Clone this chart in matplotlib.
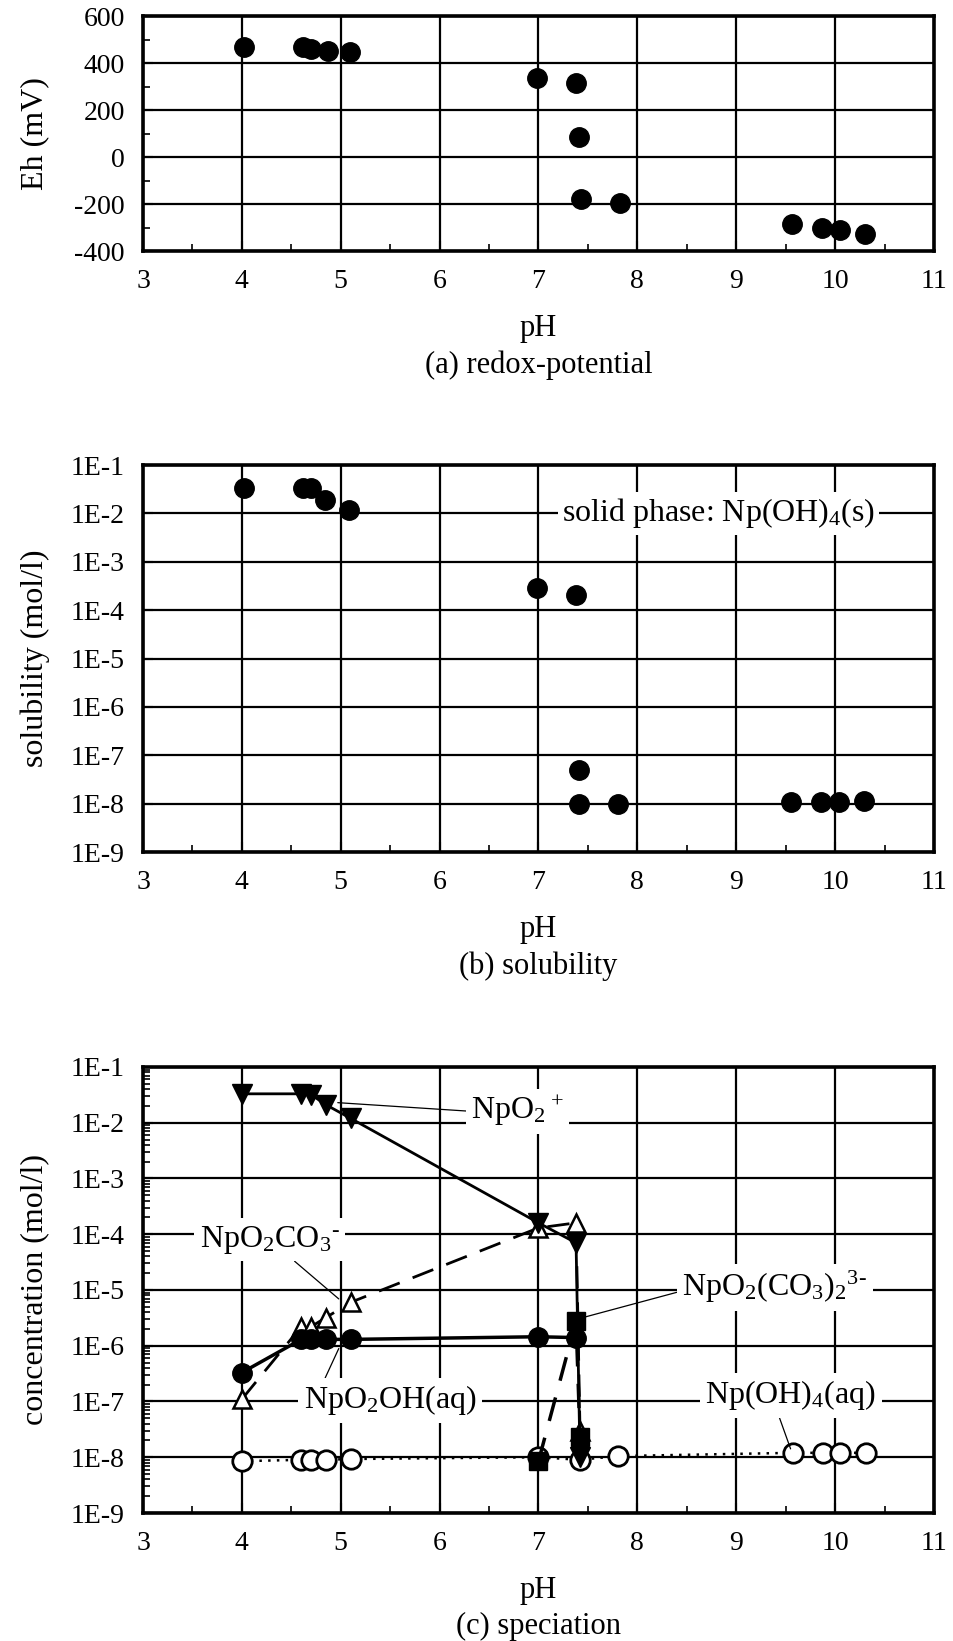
import numpy as np
import matplotlib
matplotlib.use("Agg")
from matplotlib import pyplot as plt
from matplotlib.ticker import FixedLocator, MultipleLocator, LogLocator, NullFormatter

plt.rcParams['font.family'] = ['Liberation Serif', 'DejaVu Serif']
plt.rcParams['mathtext.fontset'] = 'custom'
plt.rcParams['mathtext.rm'] = 'Liberation Serif'
plt.rcParams['mathtext.default'] = 'regular'
plt.rcParams['axes.unicode_minus'] = False
plt.rcParams['font.size'] = 20

# (a) redox potential
ph_a = [4.02, 4.62, 4.70, 4.87, 5.09, 6.98, 7.38, 7.41, 7.43, 7.82, 9.56, 9.87, 10.05, 10.30]
eh_a = [470, 470, 462, 453, 446, 335, 315, 86, -178, -197, -283, -300, -310, -328]

# (b) solubility
ph_b = [4.02, 4.62, 4.70, 4.84, 5.08, 6.98, 7.38, 7.41, 7.41, 7.80, 9.55, 9.86, 10.04, 10.29]
sol_b = [3.3e-2, 3.3e-2, 3.3e-2, 1.9e-2, 1.15e-2, 2.9e-4, 2.1e-4, 4.9e-8, 1.0e-8, 1.0e-8,
         1.1e-8, 1.1e-8, 1.1e-8, 1.15e-8]

# (c) speciation
ph_c = [4.0, 4.6, 4.7, 4.85, 5.1, 7.0, 7.38, 7.42]
npo2 = [3.3e-2, 3.3e-2, 3.2e-2, 2.1e-2, 1.2e-2, 1.6e-4, 7.0e-5, 1.0e-8]
npo2co3 = [1.1e-7, 2.2e-6, 2.2e-6, 3.2e-6, 6.0e-6, 1.3e-4, 1.6e-4, 3.0e-8]
ph_oh = [4.0, 4.6, 4.7, 4.85, 5.1, 7.0, 7.38]
npo2oh = [3.3e-7, 1.3e-6, 1.3e-6, 1.3e-6, 1.3e-6, 1.45e-6, 1.4e-6]
ph_dc = [7.0, 7.38, 7.42]
npo2dc = [8.5e-9, 2.8e-6, 2.3e-8]
ph_np4 = [4.0, 4.6, 4.7, 4.85, 5.1, 7.0, 7.42, 7.8, 9.57, 9.88, 10.05, 10.31]
npoh4 = [8.5e-9, 9e-9, 9e-9, 9e-9, 9.3e-9, 1.0e-8, 9e-9, 1.05e-8, 1.2e-8, 1.2e-8, 1.2e-8, 1.2e-8]

log_ticks = [1e-9, 1e-8, 1e-7, 1e-6, 1e-5, 1e-4, 1e-3, 1e-2, 1e-1]
log_labels = ['1E-9', '1E-8', '1E-7', '1E-6', '1E-5', '1E-4', '1E-3', '1E-2', '1E-1']
eh_ticks = [-400, -200, 0, 200, 400, 600]
ph_ticks = [3, 4, 5, 6, 7, 8, 9, 10, 11]

fig = plt.figure(figsize=(9.54, 16.41), dpi=100)
axa = fig.add_axes([0.1499, 0.8470, 0.8291, 0.1432])
axb = fig.add_axes([0.1499, 0.4808, 0.8291, 0.2358])
axc = fig.add_axes([0.1499, 0.0780, 0.8291, 0.2718])

def style(ax, ylabel, sub):
    ax.set_xlim(3, 11)
    ax.set_xticks(ph_ticks)
    ax.xaxis.set_minor_locator(MultipleLocator(0.5))
    ax.grid(True, which='major', color='black', lw=1.6)
    ax.set_axisbelow(True)
    for s in ax.spines.values():
        s.set_linewidth(2.6)
    ax.tick_params(which='major', direction='in', length=7, width=1.5, labelsize=20)
    ax.tick_params(axis='x', which='major', pad=13)
    ax.tick_params(axis='y', which='major', pad=13)
    ax.tick_params(which='minor', direction='in', length=5, width=1.2)
    ax.set_ylabel(ylabel, fontsize=23)
    ax.yaxis.set_label_coords(-0.118, 0.5)
    ax.annotate('pH', xy=(0.5, 0), xycoords='axes fraction', xytext=(0, -56),
                textcoords='offset points', ha='center', va='center', fontsize=22)
    ax.annotate(sub, xy=(0.5, 0), xycoords='axes fraction', xytext=(0, -82),
                textcoords='offset points', ha='center', va='center', fontsize=22)

# (a)
axa.plot(ph_a, eh_a, 'o', color='black', ms=14)
axa.set_ylim(-400, 600)
axa.set_yticks(eh_ticks)
axa.yaxis.set_minor_locator(MultipleLocator(100))
style(axa, 'Eh (mV)', '(a) redox-potential')

# (b)
axb.set_yscale('log')
axb.plot(ph_b, sol_b, 'o', color='black', ms=14)
axb.set_ylim(1e-9, 1e-1)
axb.yaxis.set_major_locator(FixedLocator(log_ticks))
axb.set_yticklabels(log_labels)
axb.yaxis.set_minor_locator(LogLocator(base=10, subs=np.arange(2, 10)))
axb.yaxis.set_minor_formatter(NullFormatter())
style(axb, 'solubility (mol/l)', '(b) solubility')
axb.text(8.82, 1e-2, 'solid phase: Np(OH)$_4$(s)', ha='center', va='center', fontsize=23,
         bbox=dict(fc='white', ec='none', pad=3))

# (c)
axc.set_yscale('log')
axc.plot(ph_np4, npoh4, linestyle=(0, (1, 2.5)), color='black', lw=1.8,
         marker='o', mfc='white', mec='black', mew=2, ms=14)
axc.plot(ph_c, npo2co3, linestyle=(0, (8, 5)), color='black', lw=2,
         marker='^', mfc='white', mec='black', mew=1.8, ms=13)
axc.plot(ph_c, npo2, '-', color='black', lw=2, marker='v', ms=14)
axc.plot(ph_oh, npo2oh, '-', color='black', lw=2.5, marker='o', ms=14)
axc.plot(ph_dc, npo2dc, linestyle=(0, (7, 5)), color='black', lw=2.5, marker='s', ms=13)
axc.set_ylim(1e-9, 1e-1)
axc.yaxis.set_major_locator(FixedLocator(log_ticks))
axc.set_yticklabels(log_labels)
axc.yaxis.set_minor_locator(LogLocator(base=10, subs=np.arange(2, 10)))
axc.yaxis.set_minor_formatter(NullFormatter())
style(axc, 'concentration (mol/l)', '(c) speciation')

box = dict(fc='white', ec='none', pad=4)
lead = dict(arrowstyle='-', lw=0.9, color='black', shrinkA=0, shrinkB=0)
axc.annotate('NpO$_2$$^+$', xy=(4.97, 10**-1.64), xytext=(6.79, 1.6e-2), ha='center', va='center',
             fontsize=23, bbox=box, arrowprops=dict(lead, relpos=(0, 0.5)))
axc.annotate(r'NpO$_2$CO$_3$$^{\text{-}}$', xy=(4.98, 10**-5.16), xytext=(4.28, 10**-4.1),
             ha='center', va='center', fontsize=23, bbox=box,
             arrowprops=dict(lead, relpos=(0.62, 0.05)))
axc.annotate('NpO$_2$OH(aq)', xy=(4.98, 10**-6.05), xytext=(5.5, 10**-6.98), ha='center',
             va='center', fontsize=23, bbox=box, arrowprops=dict(lead, relpos=(0.1, 0.9)))
axc.annotate(r'NpO$_2$(CO$_3$)$_2$$^{3\text{-}}$', xy=(7.48, 10**-5.48), xytext=(9.39, 10**-4.95),
             ha='center', va='center', fontsize=23, bbox=box,
             arrowprops=dict(lead, relpos=(0, 0.4)))
axc.annotate('Np(OH)$_4$(aq)', xy=(9.55, 10**-7.85), xytext=(9.55, 10**-6.89), ha='center',
             va='center', fontsize=23, bbox=box, arrowprops=dict(lead, relpos=(0.42, 0.05)))

plt.savefig('out.png', dpi=100)
